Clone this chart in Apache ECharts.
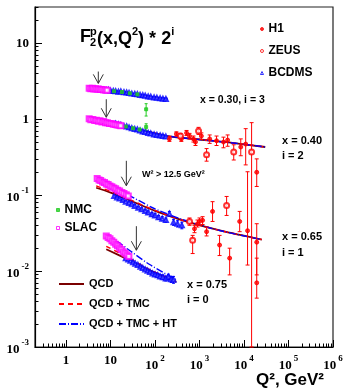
<!DOCTYPE html>
<html>
<head>
<meta charset="utf-8">
<script src="https://cdn.jsdelivr.net/npm/echarts@6/dist/echarts.min.js"></script>
<style>
  html, body { margin: 0; padding: 0; background: #fff; }
  #chart { width: 348px; height: 389px; }
</style>
</head>
<body>
<div id="chart"></div>
<script>
// F2 proton structure function vs Q2, four x bins scaled by 2^i

// ---------------------------------------------------------------------------
// Data: [Q2, F2, err] or [Q2, F2, low, high]
// ---------------------------------------------------------------------------
const slac030 = [[3.3,2.56],[3.6,2.52],[3.9,2.55],[4.2,2.50],[4.6,2.51],[5.0,2.47],[5.4,2.49],[5.9,2.45],[6.4,2.46],[7.0,2.42],[7.7,2.43],[8.4,2.40]];
const slac040 = [[3.3,1.01],[3.6,0.98],[4.0,0.99],[4.4,0.96],[4.8,0.97],[5.3,0.94],[5.8,0.95],[6.4,0.92],[7.0,0.93],[7.7,0.90],[8.5,0.90],[9.4,0.88],[10.4,0.88],[11.5,0.86],[12.7,0.85],[14,0.84],[15.5,0.83],[17,0.82]];
const slac065 = [[5,0.165],[5.5,0.158],[6,0.156],[6.6,0.149],[7.3,0.147],[8,0.140],[8.8,0.138],[9.7,0.132],[10.7,0.129],[11.8,0.124],[13,0.121],[14.5,0.116],[16,0.113],[18,0.108],[20,0.105],[22.5,0.101],[25,0.097]];
const slac075 = [[8,0.0290],[8.8,0.0276],[9.7,0.0266],[10.7,0.0250],[11.8,0.0240],[13,0.0225],[14.3,0.0215],[15.8,0.0202],[17.4,0.0192],[19.2,0.0180],[21.2,0.0172],[23.4,0.0163],[25.8,0.0156]];

const bcdms030 = [[6,2.45,0.04],[7,2.43,0.04],[8,2.41,0.04],[9,2.42,0.04],[10,2.37,0.04],[11.5,2.35,0.04],[13,2.34,0.04],[15,2.30,0.04],[17,2.31,0.04],[20,2.26,0.04],[23,2.24,0.04],[26,2.21,0.04],[30,2.17,0.04],[35,2.15,0.04],[40,2.13,0.04],[46,2.08,0.05],[53,2.06,0.05],[60,2.04,0.05],[70,1.99,0.05],[80,1.97,0.05],[95,1.93,0.05],[110,1.91,0.06],[130,1.88,0.06],[150,1.86,0.06],[175,1.84,0.07]];
const bcdms040 = [[13,0.87,0.015],[15,0.85,0.015],[17,0.84,0.015],[20,0.81,0.015],[23,0.80,0.015],[26,0.78,0.015],[30,0.76,0.015],[35,0.74,0.015],[40,0.73,0.015],[46,0.71,0.015],[53,0.69,0.015],[60,0.68,0.015],[70,0.66,0.015],[80,0.65,0.015],[95,0.63,0.02],[110,0.62,0.02],[130,0.61,0.02],[150,0.60,0.02],[175,0.59,0.02]];
const bcdms065 = [[12,0.097,0.003],[14,0.093,0.003],[16,0.090,0.003],[19,0.086,0.003],[22,0.082,0.003],[26,0.079,0.003],[30,0.076,0.003],[35,0.072,0.003],[42,0.068,0.003],[50,0.065,0.003],[60,0.062,0.003],[70,0.059,0.003],[85,0.056,0.003],[100,0.054,0.003],[120,0.051,0.003],[145,0.049,0.003],[175,0.047,0.003],[210,0.057,0.004],[260,0.044,0.004],[320,0.042,0.004],[400,0.040,0.004]];
const bcdms075 = [[22,0.0148,0.0004],[25,0.0142,0.0004],[28,0.0137,0.0004],[32,0.0131,0.0004],[36,0.0125,0.0004],[41,0.0120,0.0004],[47,0.0114,0.0004],[53,0.0110,0.0004],[60,0.0105,0.0004],[68,0.0101,0.0004],[77,0.0097,0.0004],[88,0.0093,0.0004],[100,0.0090,0.0005],[115,0.0088,0.0005],[130,0.0085,0.0005],[150,0.0083,0.0006],[175,0.0080,0.0006],[200,0.0084,0.0007],[230,0.0078,0.0007],[260,0.0077,0.0008]];

const nmc030 = [[12,2.33,0.05],[18,2.28,0.05],[27,2.19,0.05],[40,2.12,0.06],[63,1.35,0.25]];
const nmc040 = [[22,0.80,0.02],[32,0.76,0.02],[45,0.73,0.02],[63,0.79,0.08]];

const h1040 = [[210,0.55,0.51,0.59],[302,0.64,0.60,0.68],[390,0.55,0.51,0.59],[510,0.66,0.61,0.71],[595,0.60,0.55,0.65],[730,0.55,0.50,0.60],[810,0.50,0.45,0.55],[1100,0.60,0.54,0.66],[1690,0.55,0.48,0.62],[2410,0.52,0.45,0.60],[3450,0.50,0.42,0.58],[4280,0.53,0.44,0.62],[8440,0.43,0.33,0.55],[10900,0.47,0.25,0.75],[19300,0.20,0.13,0.30]];
const zeus040 = [[372,0.60,0.55,0.65],[950,0.70,0.63,0.78],[1440,0.34,0.28,0.41],[5870,0.37,0.29,0.46],[14800,0.37,0.001,0.90]];
const h1065 = [[770,0.036,0.032,0.040],[900,0.042,0.038,0.047],[1000,0.045,0.040,0.050],[1170,0.0465,0.041,0.052],[1440,0.033,0.029,0.038],[1960,0.061,0.045,0.082],[2820,0.022,0.016,0.0295],[7980,0.045,0.033,0.061],[12000,0.034,0.012,0.203],[19300,0.024,0.0089,0.042]];
const zeus065 = [[595,0.045,0.040,0.050],[700,0.0254,0.017,0.0295],[4060,0.073,0.054,0.096]];
const h1075 = [[4750,0.0148,0.0089,0.020],[19300,0.0070,0.0044,0.0148]];

// theory curves [Q2, F2]
const qcd030 = [[3.3,2.55],[10,2.32],[30,2.13],[80,1.97],[190,1.83]];
const tmc030 = [[3.3,2.56],[10,2.33],[30,2.13],[80,1.97],[190,1.83]];
const ht030  = [[3.3,2.57],[10,2.33],[30,2.14],[80,1.97],[190,1.83]];
const qcd040 = [[3.3,1.0],[10,0.88],[50,0.72],[190,0.60],[1000,0.54],[5000,0.49],[30000,0.43]];
const tmc040 = [[3.3,1.01],[10,0.885],[50,0.72],[190,0.60],[1000,0.54],[5000,0.49],[30000,0.43]];
const ht040  = [[3.3,1.02],[10,0.89],[50,0.72],[190,0.60],[1000,0.54],[5000,0.49],[30000,0.43]];
const qcd065 = [[4.75,0.125],[10,0.108],[30,0.083],[100,0.062],[500,0.045],[3000,0.034],[25000,0.026]];
const tmc065 = [[4.75,0.132],[10,0.112],[30,0.085],[100,0.063],[500,0.045],[3000,0.034],[25000,0.026]];
const ht065  = [[4.75,0.165],[10,0.134],[30,0.095],[100,0.066],[500,0.046],[3000,0.034],[25000,0.026]];
const qcd075 = [[8,0.0194],[26.4,0.0139],[74,0.0103],[300,0.0072]];
const tmc075 = [[8,0.0212],[26.4,0.0148],[74,0.0105],[300,0.0073]];
const ht075  = [[8,0.0288],[16,0.0233],[26.4,0.0188],[74,0.0123],[300,0.0077]];

// W2 cut arrows [Q2, F2 top, F2 tip]
const arrows = [[5.3,4.24,2.96],[8.0,1.83,1.06],[22.6,0.283,0.133],[38,0.039,0.0188]];

// ---------------------------------------------------------------------------
// Helpers
// ---------------------------------------------------------------------------
const symErr = (rows) => rows.map((r) => [r[0], r[1], r[1] - r[2], r[1] + r[2]]);

function errBars(color, cap) {
  return (params, api) => {
    const lo = api.coord([api.value(0), api.value(2)]);
    const hi = api.coord([api.value(0), api.value(3)]);
    const st = { stroke: color, lineWidth: 1 };
    return {
      type: "group",
      children: [
        { type: "line", shape: { x1: lo[0], y1: lo[1], x2: hi[0], y2: hi[1] }, style: st },
        { type: "line", shape: { x1: lo[0] - cap, y1: lo[1], x2: lo[0] + cap, y2: lo[1] }, style: st },
        { type: "line", shape: { x1: hi[0] - cap, y1: hi[1], x2: hi[0] + cap, y2: hi[1] }, style: st },
      ],
    };
  };
}

function drawArrow(params, api) {
  const a = api.coord([api.value(0), api.value(1)]);
  const b = api.coord([api.value(0), api.value(2)]);
  const st = { stroke: "#333", lineWidth: 1, fill: null };
  return {
    type: "group",
    children: [
      { type: "line", shape: { x1: a[0], y1: a[1], x2: b[0], y2: b[1] }, style: st },
      { type: "polyline", shape: { points: [[b[0] - 5, b[1] - 9], [b[0], b[1]], [b[0] + 5, b[1] - 9]] }, style: st },
    ],
  };
}

const supFmt = (v) => {
  const e = Math.round(Math.log10(v));
  if (e === 0) return "1";
  if (e === 1) return "10";
  return "{b|10}{s|" + e + "}";
};
const axisRich = {
  b: { fontFamily: "Liberation Serif", fontWeight: "bold", fontSize: 13, lineHeight: 18, verticalAlign: "bottom" },
  s: { fontFamily: "Liberation Serif", fontWeight: "bold", fontSize: 9, lineHeight: 18, verticalAlign: "top", padding: [0, 0, 0, 2] },
};

const minorTicks = (lo, hi) => {
  const out = [];
  for (let d = lo; d < hi; d++) for (let k = 2; k <= 9; k++) out.push(k * Math.pow(10, d));
  return out;
};
const xMajor = [1, 10, 100, 1e3, 1e4, 1e5, 1e6];
const yMajor = [0.001, 0.01, 0.1, 1, 10];
const xMinor = minorTicks(-1, 6).filter((v) => v >= 0.2);
const yMinor = minorTicks(-3, 2).filter((v) => v <= 30);

const SANS = "Liberation Sans";
const legendText = (size) => ({ fontFamily: SANS, fontWeight: "bold", fontSize: size, lineHeight: 12, color: "#000" });

// ---------------------------------------------------------------------------
// Series
// ---------------------------------------------------------------------------
const series = [];

function curve(name, data, color, type, width) {
  series.push({
    name, type: "line", data, symbol: "none", smooth: 0.3, z: 2,
    lineStyle: { color, type, width }, itemStyle: { color },
  });
}
[[qcd030, tmc030, ht030], [qcd040, tmc040, ht040], [qcd065, tmc065, ht065], [qcd075, tmc075, ht075]].forEach(([q, t, h]) => {
  curve("QCD", q, "#7a0000", "solid", 1.8);
  curve("QCD + TMC", t, "#ff0000", [5, 4], 1.4);
  curve("QCD + TMC + HT", h, "#0000ff", [7, 2, 1, 2], 1.4);
});

function points(name, rows, color, symbol, size, cap) {
  series.push({
    name: name + " err", type: "custom", renderItem: errBars(color, cap), data: rows, z: 3, silent: true,
  });
  series.push({
    name, type: "scatter", data: rows, symbol, symbolSize: size, z: 4,
    itemStyle: { color, borderColor: color, borderWidth: 1 },
  });
}

points("BCDMS", symErr([...bcdms030, ...bcdms040, ...bcdms065, ...bcdms075]), "#0000ff", "emptyTriangle", 4, 1.5);
points("NMC", symErr([...nmc030, ...nmc040]), "#22cc22", "rect", 3, 1.5);
points("H1", [...h1040, ...h1065, ...h1075], "#ff0000", "circle", 4, 2);
points("ZEUS", [...zeus040, ...zeus065], "#ff0000", "emptyCircle", 5, 2);
series.push({
  name: "SLAC", type: "scatter", data: [...slac030, ...slac040, ...slac065, ...slac075],
  symbol: "emptyRect", symbolSize: 5, z: 5,
  itemStyle: { color: "#ff00ff", borderColor: "#ff00ff", borderWidth: 1.3 },
});
series.push({ name: "arrows", type: "custom", renderItem: drawArrow, data: arrows, z: 6, silent: true });

// ---------------------------------------------------------------------------
// Axes
// ---------------------------------------------------------------------------
const logAxis = (extra) => Object.assign({
  type: "log", logBase: 10, gridIndex: 0,
  splitLine: { show: false }, minorTick: { show: false },
}, extra);

const xBase = { min: 0.2, max: 1e6, position: "bottom" };
const yBase = { min: 0.001, max: 30, position: "left" };

// small marker icons for the data-set legends (hollow = white fill)
const markIcon = (name, icon, color, hollow) => ({
  name, icon, itemStyle: { color: hollow ? "#fff" : color, borderColor: color, borderWidth: 1 },
});

const option = {
  animation: false,
  backgroundColor: "#fff",
  grid: { left: 35, right: 15, top: 7, bottom: 42, show: true, borderColor: "#222", borderWidth: 1.2, backgroundColor: "transparent" },
  xAxis: [
    logAxis(Object.assign({}, xBase, {
      axisLine: { show: true, lineStyle: { color: "#000", width: 1.2 } },
      axisTick: { show: true, inside: true, length: 7, customValues: xMajor, lineStyle: { color: "#000" } },
      axisLabel: { show: true, customValues: xMajor, formatter: supFmt, rich: axisRich, margin: 7, color: "#000",
        fontFamily: "Liberation Serif", fontWeight: "bold", fontSize: 13 },
    })),
    logAxis(Object.assign({}, xBase, {
      axisLine: { show: false },
      axisTick: { show: true, inside: true, length: 3.5, customValues: xMinor, lineStyle: { color: "#000" } },
      axisLabel: { show: false },
    })),
  ],
  yAxis: [
    logAxis(Object.assign({}, yBase, {
      axisLine: { show: true, lineStyle: { color: "#000", width: 1.2 } },
      axisTick: { show: true, inside: true, length: 7, customValues: yMajor, lineStyle: { color: "#000" } },
      axisLabel: { show: true, customValues: yMajor, formatter: supFmt, rich: axisRich, margin: 6, color: "#000",
        fontFamily: "Liberation Serif", fontWeight: "bold", fontSize: 13 },
    })),
    logAxis(Object.assign({}, yBase, {
      axisLine: { show: false },
      axisTick: { show: true, inside: true, length: 3.5, customValues: yMinor, lineStyle: { color: "#000" } },
      axisLabel: { show: false },
    })),
  ],
  legend: [
    { data: [markIcon("H1", "circle", "#ff0000", false), markIcon("ZEUS", "circle", "#ff0000", true), markIcon("BCDMS", "triangle", "#0000ff", true)],
      orient: "vertical", left: 255, top: 18, itemWidth: 3, itemHeight: 3, itemGap: 10,
      selectedMode: false, textStyle: legendText(12) },
    { data: [markIcon("NMC", "rect", "#22cc22", false), markIcon("SLAC", "rect", "#ff00ff", true)],
      orient: "vertical", left: 51, top: 199, itemWidth: 3, itemHeight: 3, itemGap: 6,
      selectedMode: false, textStyle: legendText(12) },
    { data: ["QCD", "QCD + TMC", "QCD + TMC + HT"], orient: "vertical", left: 53, top: 273, itemWidth: 25, itemHeight: 8, itemGap: 8,
      selectedMode: false, itemStyle: { opacity: 0 }, textStyle: legendText(11) },
  ],
  graphic: [
    { type: "text", left: 80, top: 28, style: { text: "F", font: "bold 18px " + SANS, fill: "#000" } },
    { type: "text", left: 90, top: 26, style: { text: "p", font: "bold 11px " + SANS, fill: "#000" } },
    { type: "text", left: 90, top: 37, style: { text: "2", font: "bold 11px " + SANS, fill: "#000" } },
    { type: "text", left: 97, top: 26, style: {
      text: "{m|(x,Q}{s|2}{m|) * 2}{s|i}",
      rich: {
        m: { font: "bold 18px " + SANS, fill: "#000", lineHeight: 22, verticalAlign: "bottom" },
        s: { font: "bold 11px " + SANS, fill: "#000", lineHeight: 22, verticalAlign: "top" },
      } } },
    { type: "text", left: 200, top: 95, style: { text: "x = 0.30, i = 3", font: "bold 10.5px " + SANS, fill: "#000" } },
    { type: "text", left: 282, top: 135, style: { text: "x = 0.40", font: "bold 11px " + SANS, fill: "#000" } },
    { type: "text", left: 282, top: 150, style: { text: "i = 2", font: "bold 11px " + SANS, fill: "#000" } },
    { type: "text", left: 282, top: 231, style: { text: "x = 0.65", font: "bold 11px " + SANS, fill: "#000" } },
    { type: "text", left: 282, top: 247, style: { text: "i = 1", font: "bold 11px " + SANS, fill: "#000" } },
    { type: "text", left: 187, top: 279, style: { text: "x = 0.75", font: "bold 11px " + SANS, fill: "#000" } },
    { type: "text", left: 187, top: 294, style: { text: "i = 0", font: "bold 11px " + SANS, fill: "#000" } },
    { type: "text", left: 142, top: 170, style: { text: "W² > 12.5 GeV²", font: "bold 9px " + SANS, fill: "#000" } },
    { type: "text", left: 256, top: 372, style: { text: "Q², GeV²", font: "bold 17px " + SANS, fill: "#000" } },
  ],
  series,
};

const chart = echarts.init(document.getElementById("chart"));
chart.setOption(option);
</script>
</body>
</html>
